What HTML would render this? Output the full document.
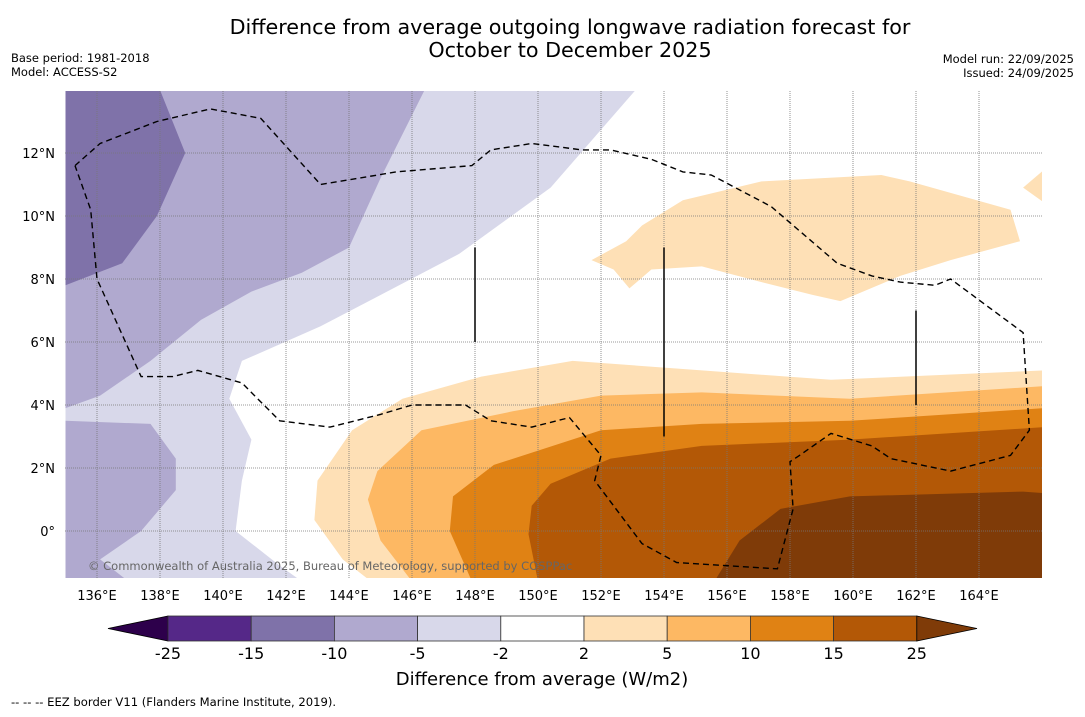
<!DOCTYPE html>
<html><head><meta charset="utf-8"><style>
body{margin:0;background:#fff;font-family:"DejaVu Sans","Liberation Sans",sans-serif;}
svg text{font-family:"DejaVu Sans","Liberation Sans",sans-serif;}
</style></head><body>
<svg id="chart" width="1085" height="713" viewBox="0 0 1085 713" xmlns="http://www.w3.org/2000/svg">
<rect width="1085" height="713" fill="#fff"/>
<text x="570" y="34" font-size="20.7" text-anchor="middle">Difference from average outgoing longwave radiation forecast for</text>
<text x="570" y="57" font-size="20.7" text-anchor="middle">October to December 2025</text>
<text x="11" y="62" font-size="11.5">Base period: 1981-2018</text>
<text x="11" y="76" font-size="11.5">Model: ACCESS-S2</text>
<text x="1074" y="63" font-size="11.5" text-anchor="end">Model run: 22/09/2025</text>
<text x="1074" y="77" font-size="11.5" text-anchor="end">Issued: 24/09/2025</text>
<defs><clipPath id="mapclip"><rect x="65" y="91" width="977" height="487"/></clipPath></defs>
<g id="map" clip-path="url(#mapclip)"></g>
<g id="axes"></g>
<g id="cbar"></g>
<text x="542" y="685" font-size="18" text-anchor="middle">Difference from average (W/m2)</text>
<text x="11" y="706" font-size="11.6">--  --  -- EEZ border V11 (Flanders Marine Institute, 2019).</text>
</svg>
<script>
const lonTicks=[136,138,140,142,144,146,148,150,152,154,156,158,160,162,164];
const latTicks=[0,2,4,6,8,10,12];
const cbLevels=[-25,-15,-10,-5,-2,2,5,10,15,25];
const cbColors=["#552888","#7f72a9","#b0a9cf","#d8d8ea","#ffffff","#fee0b6","#fdb863","#e08214","#b35806"];
const cbMinColor="#2d004b", cbMaxColor="#7f3b08";
const regionLight=[[135,14],[153.1,14],[150.4,10.9],[147.5,8.8],[143.1,6.5],[140.6,5.4],[140.2,4.2],[140.9,2.9],[140.6,1.6],[140.4,0],[141.8,-1.1],[142.5,-1.6],[135,-1.6]];
const regionMid=[[135,14],[146.4,14],[145,11.2],[144,9],[142.5,8.2],[140.9,7.6],[139.3,6.7],[137.7,5.4],[136.1,4.3],[135,3.9]];
const regionMid2=[[135,3.5],[137.7,3.4],[138.5,2.3],[138.5,1.3],[137.4,0],[136.1,-0.9],[137,-1.6],[135,-1.6]];
const regionDark=[[135,14],[138,14],[138.8,12],[137.9,10],[136.8,8.5],[135,7.8]];
const regionO1=[[166.1,5.1],[159.3,4.8],[155.2,5.1],[151.1,5.4],[148.2,4.9],[145.7,4.2],[144.1,3.2],[143,1.6],[142.9,0.35],[143.8,-0.9],[144.7,-1.6],[166.1,-1.6]];
const regionO1b=[[151.7,8.6],[152.8,9.2],[153.3,9.7],[154.6,10.5],[157.1,11.1],[160.9,11.3],[161.8,11.1],[165,10.2],[165.3,9.2],[163.1,8.6],[161.5,8.1],[159.6,7.3],[158.7,7.5],[157.1,7.9],[155.2,8.4],[153.6,8.3],[152.9,7.7],[152.4,8.3]];
const regionO1c=[[166.1,11.5],[165.4,10.9],[166.1,10.4]];
const regionO2=[[166.1,4.6],[159.9,4.2],[155.2,4.4],[152,4.3],[149.2,3.8],[146.3,3.2],[144.9,1.9],[144.6,1],[145,-0.3],[146,-1.6],[166.1,-1.6]];
const regionO3=[[166.1,3.9],[159.9,3.5],[155.2,3.4],[152,3.2],[148.6,2.1],[147.3,1.1],[147.2,0],[147.9,-1.6],[166.1,-1.6]];
const regionO4=[[166.1,3.3],[159.9,2.9],[155.2,2.7],[152.3,2.3],[150.4,1.5],[149.8,0.8],[149.7,-0.1],[150,-1.6],[166.1,-1.6]];
const regionO5=[[166.1,1.2],[165.4,1.25],[159.9,1.1],[157.7,0.7],[156.4,-0.3],[155.6,-1.6],[166.1,-1.6]];
const eez=[[135.3,11.6],[136.1,12.3],[137.9,13],[139.6,13.4],[141.2,13.1],[143.1,11],[145.5,11.4],[147.9,11.6],[148.5,12.1],[149.8,12.3],[151.4,12.1],[152.3,12.1],[153.6,11.8],[154.6,11.4],[155.5,11.3],[157.4,10.3],[159.5,8.5],[160.6,8.1],[161.5,7.9],[162.6,7.8],[163.1,8.0],[165.4,6.3],[165.6,3.2],[165,2.4],[163.1,1.9],[161.2,2.3],[160.6,2.7],[159.3,3.1],[158.3,2.4],[158,2.2],[158.1,0.7],[157.6,-1.2],[154.4,-1],[153.3,-0.4],[151.8,1.6],[152,2.4],[151,3.6],[149.8,3.3],[148.5,3.5],[147.7,4],[146,4],[145,3.7],[143.4,3.3],[141.8,3.5],[141.1,4.2],[140.6,4.7],[139.2,5.1],[138.4,4.9],[137.4,4.9],[136,8],[135.8,10.2],[135.3,11.6]];
const vlines=[[148,6,9],[154,3,9],[162,4,7]];

const NS="http://www.w3.org/2000/svg";
const x=lon=>97+(lon-136)*31.5;
const y=lat=>531-lat*31.5;
const cx=v=>{const i=cbLevels.indexOf(v);return 168+i*83.2;};
function mk(tag,attrs,parent){const e=document.createElementNS(NS,tag);for(const k in attrs)e.setAttribute(k,attrs[k]);parent.appendChild(e);return e;}
const map=document.getElementById('map'),axes=document.getElementById('axes'),cb=document.getElementById('cbar');
const pts=a=>a.map(p=>x(p[0]).toFixed(1)+','+y(p[1]).toFixed(1)).join(' ');
mk('rect',{x:65,y:91,width:977,height:487,fill:'#fff'},map);
const layers=[[regionLight,cbColors[3],'region-minus5-to-minus2'],[regionMid,cbColors[2],'region-minus10-to-minus5'],[regionMid2,cbColors[2],'region-minus10-to-minus5-south'],[regionDark,cbColors[1],'region-minus15-to-minus10'],[regionO1,cbColors[5],'region-2-to-5'],[regionO1b,cbColors[5],'region-2-to-5-north'],[regionO1c,cbColors[5],'region-2-to-5-edge'],[regionO2,cbColors[6],'region-5-to-10'],[regionO3,cbColors[7],'region-10-to-15'],[regionO4,cbColors[8],'region-15-to-25'],[regionO5,cbMaxColor,'region-above-25']];
layers.forEach(l=>{const p=mk('polygon',{points:pts(l[0]),fill:l[1]},map);

});
lonTicks.forEach(v=>{const l=mk('line',{x1:x(v),x2:x(v),y1:91,y2:578,stroke:'#777','stroke-width':0.8,'stroke-dasharray':'1,1'},map);


const t=mk('text',{x:x(v),y:600,'font-size':13,'text-anchor':'middle'},axes);t.textContent=v+'°E';

});
latTicks.forEach(v=>{const l=mk('line',{x1:65,x2:1042,y1:y(v),y2:y(v),stroke:'#777','stroke-width':0.8,'stroke-dasharray':'1,1'},map);


const t=mk('text',{x:55,y:y(v)+5,'font-size':13,'text-anchor':'end'},axes);t.textContent=v===0?'0°':v+'°N';

});
const e=mk('polyline',{points:pts(eez),fill:'none',stroke:'#000','stroke-width':1.4,'stroke-dasharray':'6,4'},map);


vlines.forEach(v=>{const l=mk('line',{x1:x(v[0]),x2:x(v[0]),y1:y(v[1]),y2:y(v[2]),stroke:'#000','stroke-width':1.5},map);

});
const c=mk('text',{x:88,y:570,'font-size':11.5,fill:'#666'},map);c.textContent='© Commonwealth of Australia 2025, Bureau of Meteorology, supported by COSPPac';


const y0=616,y1=641;
const a1=mk('polygon',{points:`168,${y0} 108,${(y0+y1)/2} 168,${y1}`,fill:cbMinColor,stroke:'#000','stroke-width':0.8},cb);


cbColors.forEach((col,i)=>{const r=mk('rect',{x:cx(cbLevels[i]),y:y0,width:cx(cbLevels[i+1])-cx(cbLevels[i]),height:y1-y0,fill:col,stroke:'#333','stroke-width':0.8},cb);

});
const a2=mk('polygon',{points:`${cx(25)},${y0} 977,${(y0+y1)/2} ${cx(25)},${y1}`,fill:cbMaxColor,stroke:'#000','stroke-width':0.8},cb);


cbLevels.forEach(v=>{const t=mk('text',{x:cx(v),y:659,'font-size':16,'text-anchor':'middle'},cb);t.textContent=v;

});
</script>
</body></html>
